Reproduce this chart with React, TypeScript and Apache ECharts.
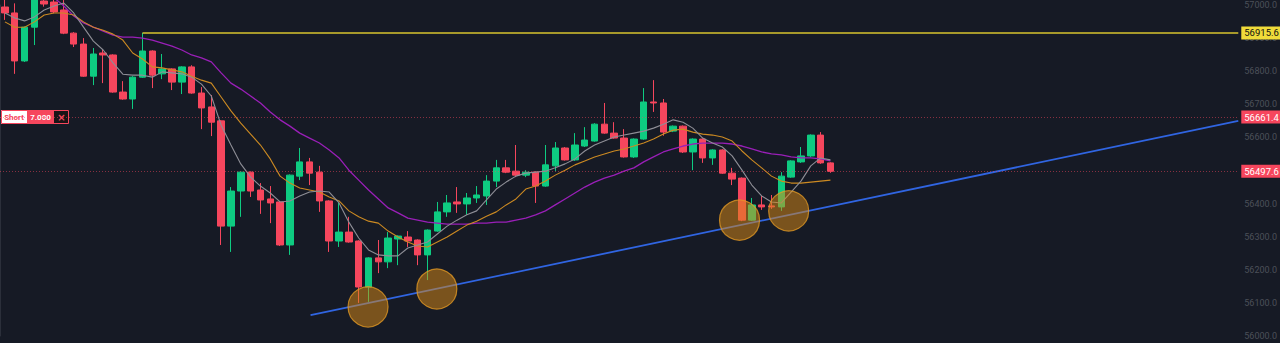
import React, { useEffect, useRef } from "react";
import * as echarts from "echarts";

// ---- layout helpers (not data) ----
const SLOTS = 126;
const categories: string[] = Array.from({ length: SLOTS }, (_, i) => String(i));

// ---- candle data ----
const opens = [
  56994, 56976, 56831, 56933, 57012, 57009, 56985, 56915, 56882, 56785,
  56855, 56849, 56737, 56716, 56782, 56861, 56792, 56807, 56767, 56813,
  56734, 56692, 56650, 56332, 56438, 56495, 56441, 56414, 56405, 56275,
  56483, 56526, 56495, 56408, 56287, 56314, 56287, 56148, 56236, 56224,
  56293, 56299, 56290, 56245, 56317, 56375, 56405, 56399, 56417, 56423,
  56468, 56508, 56498, 56486, 56495, 56453, 56514, 56568, 56532, 56574,
  56589, 56640, 56613, 56598, 56541, 56595, 56707, 56704, 56619, 56634,
  56556, 56595, 56538, 56562, 56492, 56477, 56350, 56396, 56393, 56390,
  56480, 56526, 56544, 56607, 56523,
];
const closes = [
  56976, 56831, 56933, 57040, 57003, 56979, 56915, 56882, 56785, 56852,
  56849, 56737, 56716, 56782, 56861, 56788, 56807, 56767, 56813, 56734,
  56689, 56646, 56332, 56438, 56495, 56438, 56411, 56402, 56275, 56486,
  56526, 56492, 56408, 56287, 56314, 56284, 56148, 56236, 56224, 56296,
  56302, 56287, 56245, 56320, 56375, 56402, 56399, 56417, 56426, 56468,
  56508, 56495, 56486, 56495, 56453, 56517, 56568, 56532, 56577, 56592,
  56640, 56613, 56598, 56541, 56595, 56707, 56704, 56616, 56634, 56556,
  56595, 56538, 56562, 56492, 56474, 56350, 56396, 56390, 56390, 56483,
  56529, 56544, 56607, 56523, 56497.6,
];
const lows = [
  56955, 56792, 56828, 56879, 56995, 56975, 56912, 56873, 56783, 56758,
  56764, 56735, 56714, 56686, 56780, 56749, 56776, 56743, 56731, 56732,
  56625, 56604, 56275, 56254, 56360, 56420, 56369, 56341, 56272, 56245,
  56471, 56456, 56375, 56254, 56269, 56282, 56100, 56103, 56190, 56205,
  56214, 56269, 56214, 56169, 56315, 56360, 56372, 56366, 56402, 56396,
  56450, 56492, 56480, 56480, 56402, 56451, 56498, 56530, 56529, 56571,
  56587, 56611, 56596, 56539, 56538, 56593, 56677, 56605, 56616, 56553,
  56501, 56523, 56517, 56490, 56456, 56347, 56348, 56381, 56384, 56378,
  56478, 56523, 56541, 56520, 56493,
];
const highs = [
  57020, 57005, 56935, 57060, 57030, 57030, 57015, 56918, 56900, 56870,
  56864, 56851, 56770, 56785, 56915.6, 56863, 56852, 56809, 56815, 56818,
  56752, 56728, 56652, 56450, 56497, 56497, 56462, 56453, 56407, 56488,
  56568, 56538, 56514, 56410, 56402, 56360, 56289, 56238, 56290, 56314,
  56304, 56317, 56292, 56322, 56405, 56426, 56450, 56432, 56453, 56486,
  56532, 56532, 56577, 56501, 56497, 56577, 56586, 56571, 56613, 56631,
  56643, 56704, 56646, 56625, 56597, 56749, 56773, 56716, 56636, 56636,
  56597, 56597, 56564, 56564, 56508, 56479, 56417, 56423, 56426, 56495,
  56531, 56571, 56609, 56616, 56525,
];

// ---- moving averages ----
const maFast = [
  56976, 56961, 56952, 56964, 56985, 56997, 57006, 56976, 56933, 56891,
  56864, 56825, 56791, 56788, 56788, 56782, 56798, 56795, 56792, 56782,
  56761, 56725, 56637, 56577, 56520, 56480, 56453, 56432, 56405, 56408,
  56423, 56435, 56438, 56435, 56402, 56344, 56296, 56260, 56245, 56242,
  56242, 56266, 56275, 56284, 56308, 56332, 56350, 56366, 56378, 56411,
  56444, 56465, 56483, 56492, 56495, 56498, 56508, 56520, 56535, 56559,
  56577, 56589, 56601, 56607, 56613, 56619, 56628, 56640, 56653, 56646,
  56628, 56598, 56583, 56571, 56544, 56501, 56456, 56423, 56405, 56402,
  56435, 56468, 56514, 56538, 56532,
];
const maMid = [
  56949, 56933, 56933, 56949, 56970, 56976, 56976, 56970, 56949, 56933,
  56924, 56912, 56894, 56855, 56837, 56813, 56810, 56804, 56798, 56785,
  56773, 56764, 56722, 56680, 56643, 56610, 56577, 56535, 56483, 56462,
  56447, 56441, 56435, 56420, 56408, 56378, 56360, 56347, 56341, 56317,
  56299, 56284, 56272, 56269, 56284, 56299, 56317, 56335, 56347, 56362,
  56375, 56396, 56414, 56444, 56453, 56468, 56486, 56501, 56517, 56529,
  56541, 56550, 56559, 56565, 56574, 56583, 56595, 56610, 56622, 56625,
  56616, 56610, 56607, 56601, 56589, 56559, 56532, 56508, 56483, 56468,
  56462, 56462, 56465, 56468, 56471,
];
const maSlow = [
  57090, 57080, 57068, 57055, 57040, 57022, 56997, 56967, 56946, 56933,
  56921, 56909, 56903, 56903, 56900, 56894, 56885, 56876, 56864, 56849,
  56840, 56828, 56795, 56764, 56746, 56725, 56704, 56677, 56653, 56634,
  56613, 56598, 56583, 56562, 56538, 56501, 56471, 56441, 56414, 56387,
  56372, 56356, 56350, 56344, 56341, 56338, 56338, 56338, 56341, 56341,
  56344, 56344, 56350, 56356, 56366, 56378, 56396, 56414, 56432, 56450,
  56465, 56477, 56486, 56498, 56508, 56526, 56541, 56556, 56565, 56574,
  56580, 56583, 56583, 56583, 56580, 56574, 56565, 56556, 56550, 56547,
  56541, 56538, 56538, 56535, 56529,
];

// ---- annotations (in axis units: x in candle slots, y in price) ----
const trendX = [31.6, 126];
const trendY = [56063, 56650];
const circleX = [37.45, 44.45, 75.25, 80.25];
const circleY = [56088, 56142, 56350, 56378];
const resistanceLevel = 56915.6;
const resistanceStart = 14.5;
const shortLevel = 56661.4;
const lastPrice = 56497.6;
const shortLabel = ["Short", "7.000"];
const yTicks = { min: 56000, max: 57000, step: 100 };

const GREEN = "#0ECB81";
const RED = "#F6465D";
const BG = "#161A25";
const FONT = "Roboto, 'DejaVu Sans', sans-serif";

export default function App() {
  const ref = useRef<HTMLDivElement>(null);

  useEffect(() => {
    if (!ref.current) return;
    const chart = echarts.init(ref.current, null, { renderer: "svg" });
    const candleData = opens.map((o, i) => [o, closes[i], lows[i], highs[i]]);
    const trendData = trendX.map((x, i) => [x, trendY[i]]);
    const circleData = circleX.map((x, i) => [x, circleY[i]]);

    const tag = (bg: string, fg: string) => ({
      show: true,
      position: "end" as const,
      distance: 3,
      backgroundColor: bg,
      color: fg,
      padding: [2, 3, 1, 3],
      fontSize: 9.5,
      fontFamily: FONT,
    });

    chart.setOption({
      animation: false,
      backgroundColor: BG,
      grid: { left: 0, right: 39, top: 5, bottom: 7 },
      xAxis: [
        { type: "category", data: categories, boundaryGap: true, show: false },
        { type: "value", min: 0, max: SLOTS, show: false },
      ],
      yAxis: {
        type: "value",
        position: "right",
        min: yTicks.min,
        max: yTicks.max,
        interval: yTicks.step,
        axisLine: { show: true, lineStyle: { color: "#2B2F3A", width: 1 } },
        axisTick: { show: false },
        splitLine: { show: false },
        axisLabel: {
          color: "#4C5059",
          fontSize: 9,
          margin: 6,
          fontFamily: FONT,
          formatter: (v: number) => v.toFixed(1),
        },
      },
      series: [
        {
          type: "candlestick",
          name: "price",
          xAxisIndex: 0,
          data: candleData,
          barWidth: 7,
          clip: false,
          itemStyle: {
            color: GREEN,
            color0: RED,
            borderColor: GREEN,
            borderColor0: RED,
            borderWidth: 1,
          },
          z: 2,
        },
        {
          type: "line",
          name: "MA slow",
          data: maSlow,
          symbol: "none",
          clip: false,
          lineStyle: { color: "#9A1FB8", width: 1.3 },
          z: 3,
        },
        {
          type: "line",
          name: "MA mid",
          data: maMid,
          symbol: "none",
          clip: false,
          lineStyle: { color: "#CC8A22", width: 1.1 },
          z: 3,
        },
        {
          type: "line",
          name: "MA fast",
          data: maFast,
          symbol: "none",
          clip: false,
          lineStyle: { color: "#8E8E96", width: 1.1 },
          z: 3,
        },
        {
          type: "line",
          name: "levels",
          xAxisIndex: 1,
          data: [],
          symbol: "none",
          markLine: {
            silent: true,
            symbol: ["none", "none"],
            animation: false,
            data: [
              [
                {
                  coord: [resistanceStart, resistanceLevel],
                  lineStyle: { color: "#D8C42E", width: 1.5, type: "solid" },
                  label: { ...tag("#F0DB3A", "#111"), formatter: resistanceLevel.toFixed(1) },
                },
                { coord: [SLOTS, resistanceLevel] },
              ],
              [
                {
                  coord: [0, shortLevel],
                  lineStyle: { color: "rgba(246,70,93,0.5)", width: 1, type: [1, 2] },
                  label: { ...tag(RED, "#fff"), formatter: shortLevel.toFixed(1) },
                },
                { coord: [SLOTS, shortLevel] },
              ],
              [
                {
                  coord: [0, lastPrice],
                  lineStyle: { color: "rgba(246,70,93,0.5)", width: 1, type: [1, 2] },
                  label: { ...tag(RED, "#fff"), formatter: lastPrice.toFixed(1) },
                },
                { coord: [SLOTS, lastPrice] },
              ],
            ],
          },
          z: 4,
        },
        {
          type: "line",
          name: "trend",
          xAxisIndex: 1,
          data: trendData,
          symbol: "none",
          lineStyle: { color: "#3065E2", width: 1.8 },
          z: 4,
        },
        {
          type: "scatter",
          name: "touches",
          xAxisIndex: 1,
          data: circleData,
          symbol: "circle",
          symbolSize: 40,
          itemStyle: {
            color: "rgba(218,138,22,0.64)",
            borderColor: "rgba(230,155,36,0.95)",
            borderWidth: 1.2,
          },
          z: 6,
        },
      ],
    });

    const y = chart.convertToPixel({ yAxisIndex: 0 }, shortLevel) as number;
    const top = Math.round(y) - 7;
    const font = `bold 8px ${FONT}`;
    chart.setOption({
      graphic: [
        {
          type: "group",
          x: 1,
          y: top,
          z: 100,
          children: [
            { type: "rect", shape: { x: 0, y: 0, width: 26, height: 14 }, style: { fill: "#FFFFFF" } },
            { type: "rect", shape: { x: 26, y: 0, width: 27, height: 14 }, style: { fill: RED } },
            { type: "rect", shape: { x: 53, y: 0, width: 14, height: 14 }, style: { fill: "#1A1416" } },
            {
              type: "rect",
              shape: { x: 0.5, y: 0.5, width: 67, height: 13 },
              style: { fill: "none", stroke: RED, lineWidth: 1 },
            },
            {
              type: "text",
              x: 13,
              y: 7,
              style: { text: shortLabel[0], fill: RED, font, align: "center", verticalAlign: "middle" },
            },
            {
              type: "text",
              x: 39.5,
              y: 7,
              style: { text: shortLabel[1], fill: "#FFFFFF", font, align: "center", verticalAlign: "middle" },
            },
            {
              type: "text",
              x: 60.5,
              y: 7,
              style: { text: "×", fill: RED, font: "bold 10px 'DejaVu Sans', sans-serif", align: "center", verticalAlign: "middle" },
            },
          ],
        },
      ],
    });

    return () => chart.dispose();
  }, []);

  return (
    <div
      ref={ref}
      style={{ position: "fixed", left: 0, top: 0, width: 1280, height: 343 }}
    />
  );
}
